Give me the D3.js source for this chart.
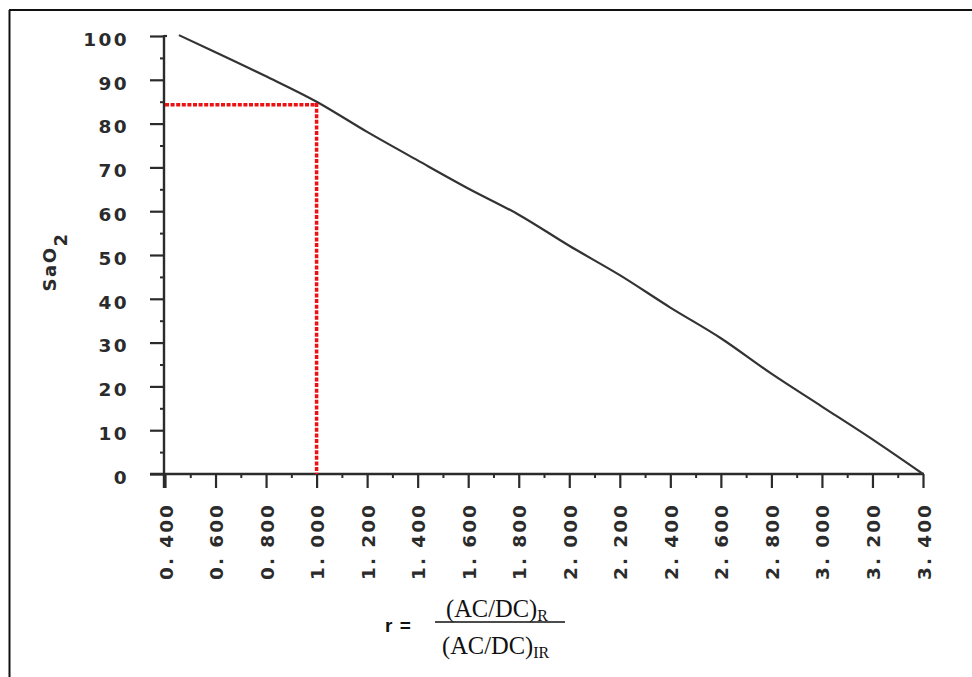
<!DOCTYPE html>
<html>
<head>
<meta charset="utf-8">
<script src="https://cdn.jsdelivr.net/npm/d3@7"></script>
<style>
  html, body { margin: 0; padding: 0; background: #fff; }
  svg { display: block; }
</style>
</head>
<body>
<svg id="chart" width="972" height="677"></svg>
<script>
// ---- data ----
const ratioValues = [0.455, 0.6, 0.8, 1.0, 1.2, 1.4, 1.6, 1.8, 2.0, 2.2, 2.4, 2.6, 2.8, 3.0, 3.2, 3.4];
const sao2Values  = [100.2, 96.3, 90.8, 85.0, 78.1, 71.6, 65.2, 59.2, 52.1, 45.4, 38.0, 31.0, 22.9, 15.4, 7.9, 0.0];
const xTicks = [0.4, 0.6, 0.8, 1.0, 1.2, 1.4, 1.6, 1.8, 2.0, 2.2, 2.4, 2.6, 2.8, 3.0, 3.2, 3.4];
const xTickLabels = ["0. 400","0. 600","0. 800","1. 000","1. 200","1. 400","1. 600","1. 800","2. 000","2. 200","2. 400","2. 600","2. 800","3. 000","3. 200","3. 400"];
const xMinorTicks = [0.5, 0.7, 0.9, 1.1, 1.3, 1.5, 1.7, 1.9, 2.1, 2.3, 2.5, 2.7, 2.9, 3.1, 3.3];
const yTicks = [0, 10, 20, 30, 40, 50, 60, 70, 80, 90, 100];
const yTickLabels = ["0","10","20","30","40","50","60","70","80","90","100"];
const yMinorTicks = [5, 15, 25, 35, 45, 55, 65, 75, 85, 95];
const markerPoint = { r: 1.0, sao2: 84.3 };

// ---- scales ----
const x = d3.scaleLinear().domain([0.4, 3.4]).range([165, 923]);
const y = d3.scaleLinear().domain([0, 100]).range([474, 36]);

const svg = d3.select("#chart");
const ink = "#2b2b2b";

// outer frame (top and left edges visible)
svg.append("line").attr("x1", 9).attr("x2", 972).attr("y1", 10).attr("y2", 10)
  .attr("stroke", "#111").attr("stroke-width", 2);
svg.append("line").attr("x1", 9.5).attr("x2", 9.5).attr("y1", 10).attr("y2", 677)
  .attr("stroke", "#111").attr("stroke-width", 2);

// ---- y axis ----
const yAxis = d3.axisLeft(y).tickValues(yTicks).tickSize(14).tickPadding(21)
  .tickFormat((d, i) => yTickLabels[i]);
const gy = svg.append("g").attr("transform", "translate(164,0)").call(yAxis);
gy.select(".domain").remove();
gy.selectAll(".tick line").attr("stroke", ink).attr("stroke-width", 2.2);
gy.selectAll(".tick text")
  .attr("fill", ink)
  .attr("font-family", "'DejaVu Sans', sans-serif")
  .attr("font-weight", "bold")
  .attr("font-size", 18.5)
  .attr("letter-spacing", 2.4)
  .attr("dy", "0.5em");
gy.append("line").attr("x1", 0).attr("x2", 0).attr("y1", y(100) - 1).attr("y2", 488)
  .attr("stroke", ink).attr("stroke-width", 2.4);
gy.append("line").attr("x1", 0).attr("x2", 3).attr("y1", y(100)).attr("y2", y(100))
  .attr("stroke", ink).attr("stroke-width", 2.2);
const yMinor = d3.axisLeft(y).tickValues(yMinorTicks).tickSize(4).tickFormat("");
const gym = svg.append("g").attr("transform", "translate(164,0)").call(yMinor);
gym.select(".domain").remove();
gym.selectAll(".tick line").attr("stroke", ink).attr("stroke-width", 2);

// ---- x axis ----
const xAxis = d3.axisBottom(x).tickValues(xTicks).tickSize(14).tickFormat((d, i) => xTickLabels[i]);
const gx = svg.append("g").attr("transform", "translate(0,474)").call(xAxis);
gx.select(".domain").remove();
gx.selectAll(".tick line").attr("stroke", ink).attr("stroke-width", 2.2);
gx.selectAll(".tick text")
  .attr("fill", ink)
  .attr("font-family", "'DejaVu Sans', sans-serif")
  .attr("font-weight", "bold")
  .attr("font-size", 18.5)
  .attr("letter-spacing", 2.0)
  .attr("text-anchor", "end")
  .attr("transform", "rotate(-90)")
  .attr("x", -29)
  .attr("y", 0)
  .attr("dy", "0.38em");
gx.append("line").attr("x1", 150).attr("x2", x(3.4) + 1).attr("y1", 0).attr("y2", 0)
  .attr("stroke", ink).attr("stroke-width", 2.4);
const xMinor = d3.axisBottom(x).tickValues(xMinorTicks).tickSize(4).tickFormat("");
const gxm = svg.append("g").attr("transform", "translate(0,474)").call(xMinor);
gxm.select(".domain").remove();
gxm.selectAll(".tick line").attr("stroke", ink).attr("stroke-width", 2);

// ---- curve ----
const data = ratioValues.map((r, i) => ({ r, s: sao2Values[i] }));
svg.append("path").datum(data)
  .attr("fill", "none")
  .attr("stroke", "#333")
  .attr("stroke-width", 2.2)
  .attr("d", d3.line().x(d => x(d.r)).y(d => y(d.s)).curve(d3.curveMonotoneX));

// ---- red dotted marker ----
const red = "#ee1111";
svg.append("line")
  .attr("x1", x(0.4)).attr("x2", x(markerPoint.r))
  .attr("y1", y(markerPoint.sao2)).attr("y2", y(markerPoint.sao2))
  .attr("stroke", red).attr("stroke-width", 3.5).attr("stroke-dasharray", "4,1.6");
svg.append("line")
  .attr("x1", x(markerPoint.r)).attr("x2", x(markerPoint.r))
  .attr("y1", y(markerPoint.sao2) - 1.7).attr("y2", y(0))
  .attr("stroke", red).attr("stroke-width", 3.5).attr("stroke-dasharray", "4,1.6");

// ---- y axis title ----
const yt = svg.append("text")
  .attr("transform", "translate(56,262) rotate(-90)")
  .attr("text-anchor", "middle")
  .attr("fill", ink)
  .attr("font-family", "'DejaVu Sans', sans-serif")
  .attr("font-weight", "bold")
  .attr("font-size", 18)
  .attr("letter-spacing", 1.5);
yt.append("tspan").text("SaO");
yt.append("tspan").attr("baseline-shift", "sub").text("2");

// ---- formula ----
svg.append("text").attr("x", 385).attr("y", 632)
  .attr("font-family", "'Liberation Sans', Arial, sans-serif")
  .attr("font-weight", "bold").attr("font-size", 19).attr("fill", "#111")
  .attr("letter-spacing", 1)
  .text("r =");
svg.append("line").attr("x1", 435).attr("x2", 565).attr("y1", 622).attr("y2", 622)
  .attr("stroke", "#111").attr("stroke-width", 1.3);
const num = svg.append("text").attr("x", 446).attr("y", 617)
  .attr("font-family", "'Liberation Serif', 'Times New Roman', serif")
  .attr("font-size", 24.5).attr("fill", "#111");
num.append("tspan").text("(AC/DC)");
num.append("tspan").attr("font-size", 16).attr("dy", 4).text("R");
const den = svg.append("text").attr("x", 442).attr("y", 654)
  .attr("font-family", "'Liberation Serif', 'Times New Roman', serif")
  .attr("font-size", 24.5).attr("fill", "#111");
den.append("tspan").text("(AC/DC)");
den.append("tspan").attr("font-size", 16).attr("dy", 4).text("IR");
</script>
</body>
</html>
